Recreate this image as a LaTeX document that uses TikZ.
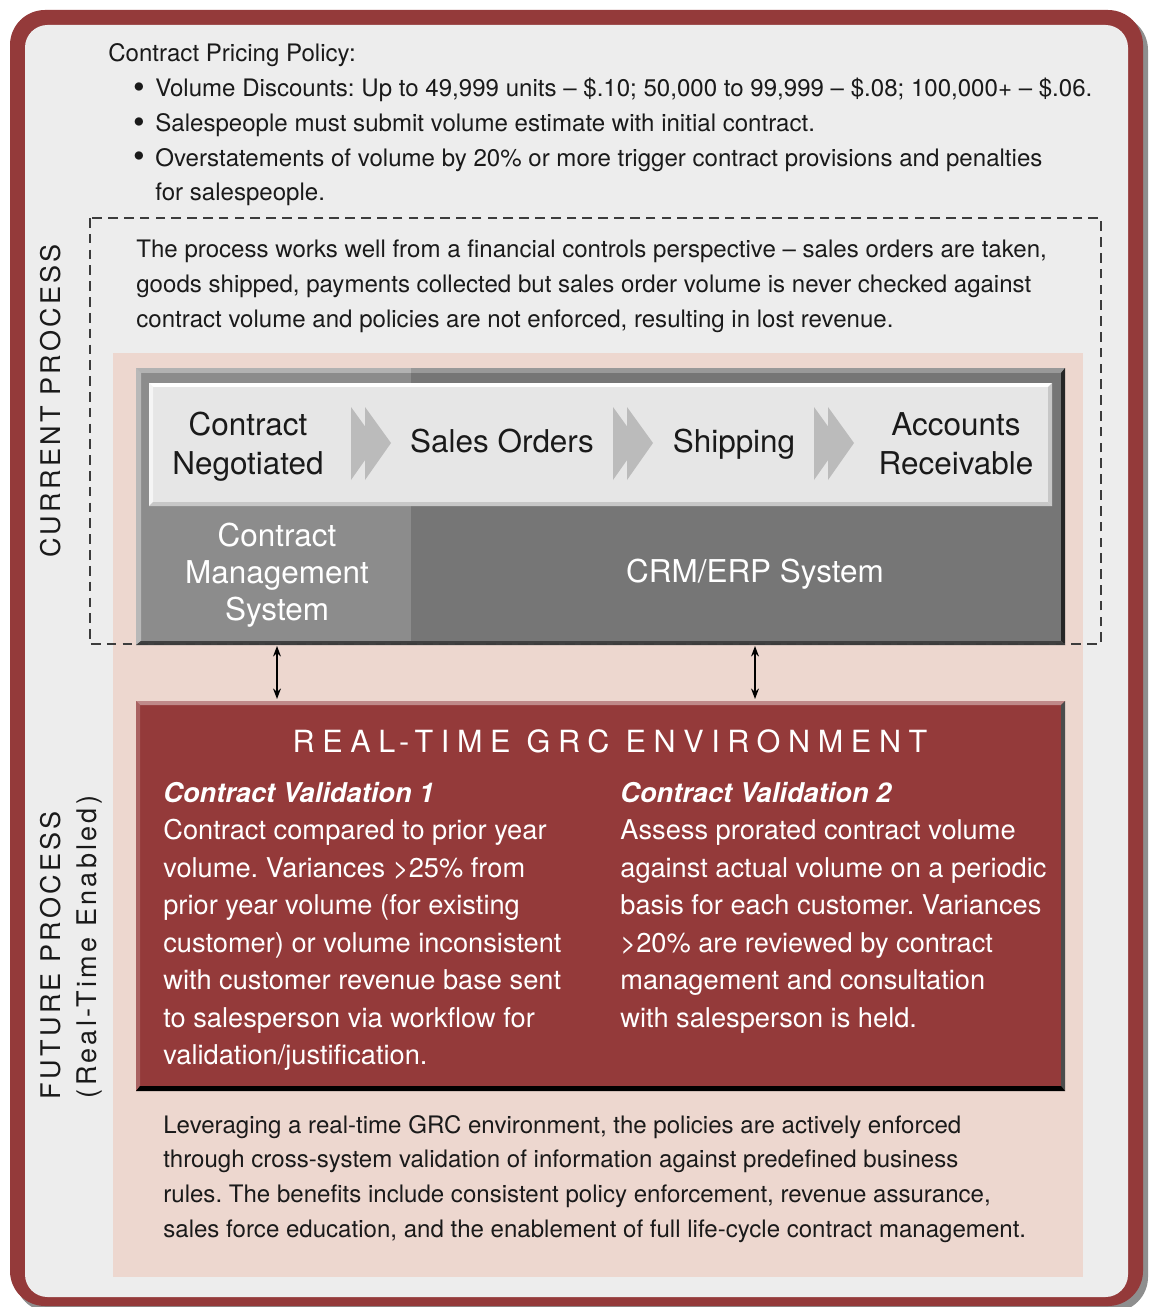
\documentclass[tikz,border=0pt]{standalone}
\usepackage{fontspec}
\setmainfont{TeX Gyre Heros}
\usepackage{xcolor}
\usepackage{tikz}
\usetikzlibrary{positioning,arrows.meta}

\definecolor{textblack}{HTML}{1A1A1A}
\definecolor{grcred}{HTML}{943A3A}
\definecolor{pinkbg}{HTML}{EDD7CF}
\definecolor{panelgray}{HTML}{EDEDED}
\definecolor{shadowgray}{HTML}{8E8E8E}
\definecolor{cmsgray}{HTML}{8C8C8C}
\definecolor{erpgray}{HTML}{767676}
\definecolor{bandgray}{HTML}{E6E6E6}
\definecolor{chevgray}{HTML}{BBBBBB}

\newcommand{\notesize}{\fontsize{13.7}{19.7}\selectfont}
\newcommand{\stepsize}{\fontsize{17.9}{22.2}\selectfont}
\newcommand{\syssize}{\fontsize{17.9}{21.05}\selectfont}
\newcommand{\grcsize}{\fontsize{15.5}{21.3}\selectfont}
\newcommand{\bul}{\llap{\raisebox{-1pt}{\fontsize{19}{19}\selectfont\textbullet}\hspace{6pt}}}
\frenchspacing

\begin{document}
\begin{tikzpicture}[
x=0.02cm, y=-0.02cm,
note/.style={anchor=north west, align=left, inner sep=0pt, text=textblack, font=\notesize},
stepname/.style={align=center, inner sep=0pt, text=textblack, font=\stepsize},
sysname/.style={align=center, inner sep=0pt, text=white, font=\syssize},
grctext/.style={anchor=north west, align=left, inner sep=0pt, text=white, font=\grcsize},
sidelabel/.style={rotate=90, inner sep=0pt, text=textblack, font={\fontsize{15.4}{18}\selectfont\addfontfeature{LetterSpace=12}}},
linkarrow/.style={{Stealth[length=6pt,width=4.5pt]}-{Stealth[length=6pt,width=4.5pt]}, line width=0.8pt, black},
]
\useasboundingbox (0,0) rectangle (1151,1307);
\fill[white] (0,0) rectangle (1151,1307);

% frame
\fill[shadowgray, rounded corners=0.7cm] (15,15) rectangle (1148,1312);
\fill[grcred, rounded corners=0.7cm] (10,10) rectangle (1143,1306);
\fill[panelgray, rounded corners=0.45cm] (25,25) rectangle (1128,1297);
\fill[pinkbg] (113,353) rectangle (1083,1277);

% systems block
\fill[cmsgray] (136,368) rectangle (411,645);
\fill[erpgray] (411,368) rectangle (1065,645);
\fill[black!30] (136,368) rectangle (411,373);
\fill[black!40] (411,368) rectangle (1065,373);
\fill[black!28] (136,368) -- (141,373) -- (141,641) -- (136,645) -- cycle;
\fill[black!85] (1065,368) -- (1061,373) -- (1061,641) -- (1065,645) -- cycle;
\fill[black!75] (136,645) -- (141,641) -- (1061,641) -- (1065,645) -- cycle;

% process band
\fill[bandgray] (149,383) rectangle (1052,506);
\fill[white] (149,383) rectangle (1052,387);
\fill[black!4] (149,383) -- (153,387) -- (153,502) -- (149,506) -- cycle;
\fill[black!22] (1052,383) -- (1048,387) -- (1048,502) -- (1052,506) -- cycle;
\fill[black!22] (149,506) -- (153,502) -- (1048,502) -- (1052,506) -- cycle;

% chevrons
\fill[chevgray] (351,407) -- (377,443) -- (351,480) -- cycle;
\fill[chevgray] (365,407) -- (391,443) -- (365,480) -- cycle;
\fill[chevgray] (613,407) -- (639,443) -- (613,480) -- cycle;
\fill[chevgray] (627,407) -- (653,443) -- (627,480) -- cycle;
\fill[chevgray] (814,407) -- (840,443) -- (814,480) -- cycle;
\fill[chevgray] (828,407) -- (854,443) -- (828,480) -- cycle;

% grc block
\fill[grcred] (136,701) rectangle (1065,1091);
\fill[grcred!60!white] (136,701) -- (1065,701) -- (1061,705) -- (140,705) -- cycle;
\fill[grcred!80!white] (136,701) -- (140,705) -- (140,1087) -- (136,1091) -- cycle;
\fill[black!70] (1065,701) -- (1061,705) -- (1061,1087) -- (1065,1091) -- cycle;
\fill[black] (136,1091) -- (140,1086) -- (1061,1086) -- (1065,1091) -- cycle;

% current process
\draw[textblack!85, line width=0.9pt, dash pattern=on 5.5pt off 3.5pt] (90,218) rectangle (1101,644);

\node[note] (policy) at (108,43) {Contract Pricing Policy:};
\node[note] (rules) at (155,78) {\bul Volume Discounts: Up to 49,999 units -- \$.10; 50,000 to 99,999 -- \$.08; 100,000+ -- \$.06.\\
\bul Salespeople must submit volume estimate with initial contract.\\
\bul Overstatements of volume by 20\% or more trigger contract provisions and penalties\\
for salespeople.};

\node[note] (current) at (136,240) {The process works well from a financial controls perspective -- sales orders are taken,\\
goods shipped, payments collected but sales order volume is never checked against\\
contract volume and policies are not enforced, resulting in lost revenue.};

\node[stepname, anchor=north] (negotiated) at (248,412) {Contract\\Negotiated};
\node[stepname, anchor=base] (orders) at (502,452) {Sales Orders};
\node[stepname, anchor=base] (shipping) at (734,452) {Shipping};
\node[stepname, anchor=north] (receivable) at (956,412) {Accounts\\Receivable};

\node[sysname, anchor=north] (cmslabel) at (277,523) {Contract\\Management\\System};
\node[sysname, anchor=base] (erplabel) at (755,582) {CRM/ERP System};

% future process
\node[anchor=base, inner sep=0pt, text=white, font={\fontsize{17.4}{20}\selectfont\addfontfeature{LetterSpace=25}}] (grctitle) at (610,752) {REAL-TIME GRC ENVIRONMENT};

\node[grctext] (check1) at (163,782) {\textbf{\textit{Contract Validation 1}}\\
Contract compared to prior year\\
volume. Variances >25\% from\\
prior year volume (for existing\\
customer) or volume inconsistent\\
with customer revenue base sent\\
to salesperson via workflow for\\
validation/justification.};

\node[grctext] (check2) at (620,782) {\textbf{\textit{Contract Validation 2}}\\
Assess prorated contract volume\\
against actual volume on a periodic\\
basis for each customer. Variances\\
>20\% are reviewed by contract\\
management and consultation\\
with salesperson is held.};

\node[note] (future) at (163,1115) {Leveraging a real-time GRC environment, the policies are actively enforced\\
through cross-system validation of information against predefined business\\
rules. The benefits include consistent policy enforcement, revenue assurance,\\
sales force education, and the enablement of full life-cycle contract management.};

\node[sidelabel] (currentlabel) at (51,401) {CURRENT PROCESS};
\node[sidelabel] (futurelabel) at (51,955) {FUTURE PROCESS};
\node[sidelabel] (enabledlabel) at (90,947) {(Real-Time Enabled)};

\coordinate (sysbottom) at (0,646);
\coordinate (grctop) at (0,699);
\draw[linkarrow] (cmslabel |- sysbottom) -- (cmslabel |- grctop);
\draw[linkarrow] (erplabel |- sysbottom) -- (erplabel |- grctop);
\end{tikzpicture}
\end{document}
